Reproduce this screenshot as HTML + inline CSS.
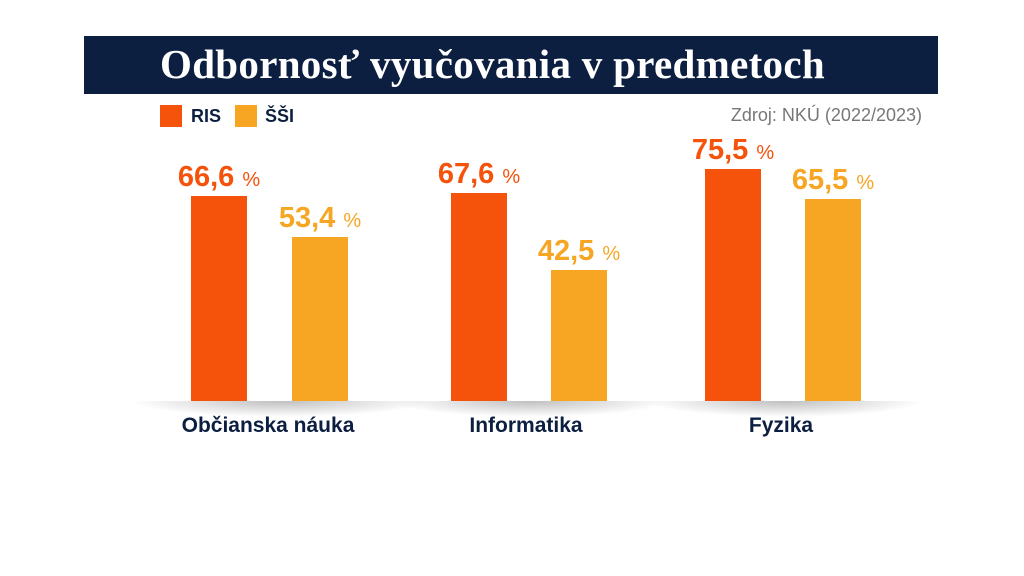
<!DOCTYPE html>
<html><head><meta charset="utf-8"><style>
*{margin:0;padding:0;box-sizing:border-box}
body{width:1024px;height:576px;background:#fff;position:relative;overflow:hidden;font-family:"Liberation Sans",sans-serif}
.title{position:absolute;left:84px;top:36px;width:854px;height:58px;background:#0C1F40}
.title span{position:absolute;left:76px;top:4px;color:#fff;font-family:"Liberation Serif",serif;font-weight:bold;font-size:41px;letter-spacing:0.3px;white-space:nowrap}
.sq{position:absolute;width:22px;height:22px;top:105px}
.lg{position:absolute;top:105px;font-size:18px;font-weight:bold;color:#0C1F40;line-height:22px}
.src{position:absolute;right:102px;top:104px;font-size:18px;color:#777;line-height:22px}
.bar{position:absolute;width:56px;bottom:175px}
.val{position:absolute;width:160px;text-align:center;font-weight:bold;font-size:29px;line-height:28px;white-space:nowrap}
.val small{font-size:20px;font-weight:normal}
.cat{position:absolute;top:414px;width:260px;text-align:center;font-size:21px;font-weight:bold;color:#0C1F40}
.sh{position:absolute;top:401px;height:16px;background:radial-gradient(ellipse at 50% 0%,rgba(0,0,0,0.25),rgba(0,0,0,0) 70%)}
.o{background:#F5520C;color:#F5520C}.y{background:#F6A623;color:#F6A623}
.val.o,.val.y{background:none}
</style></head><body>
<div class="title"><span>Odbornosť vyučovania v predmetoch</span></div>
<div class="sq o" style="left:160px"></div><div class="lg" style="left:191px">RIS</div>
<div class="sq y" style="left:235px"></div><div class="lg" style="left:265px">ŠŠI</div>
<div class="src">Zdroj: NKÚ (2022/2023)</div>

<div class="sh" style="left:130px;width:300px"></div>
<div class="sh" style="left:390px;width:280px"></div>
<div class="sh" style="left:645px;width:280px"></div>

<div class="bar o" style="left:191px;top:196px"></div>
<div class="bar y" style="left:292px;top:237px"></div>
<div class="bar o" style="left:451px;top:193px"></div>
<div class="bar y" style="left:551px;top:270px"></div>
<div class="bar o" style="left:705px;top:169px"></div>
<div class="bar y" style="left:805px;top:199px"></div>

<div class="val o" style="left:139px;top:163px">66,6 <small>%</small></div>
<div class="val y" style="left:240px;top:204px">53,4 <small>%</small></div>
<div class="val o" style="left:399px;top:160px">67,6 <small>%</small></div>
<div class="val y" style="left:499px;top:237px">42,5 <small>%</small></div>
<div class="val o" style="left:653px;top:136px">75,5 <small>%</small></div>
<div class="val y" style="left:753px;top:166px">65,5 <small>%</small></div>

<div class="cat" style="left:138px">Občianska náuka</div>
<div class="cat" style="left:396px">Informatika</div>
<div class="cat" style="left:651px">Fyzika</div>
</body></html>
